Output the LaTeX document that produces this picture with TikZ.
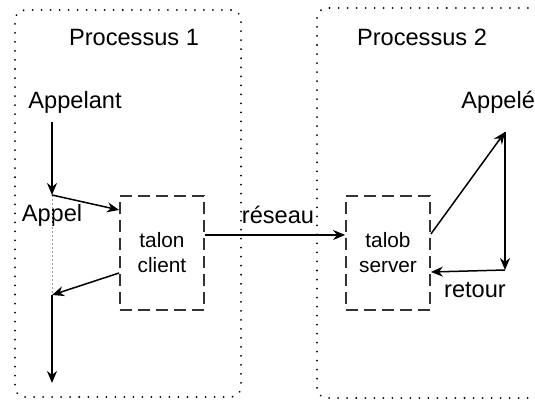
\documentclass[tikz,border=0pt]{standalone}
\usepackage{fontspec}
\setmainfont{Liberation Sans}
\usetikzlibrary{arrows.meta,positioning}

\tikzset{
  process/.style={draw, rounded corners=5pt, line width=1pt, line cap=round,
    dash pattern=on 0.01pt off 4.5pt, inner sep=0pt},
  stub/.style={draw=black!80, line width=0.9pt, dash pattern=on 6pt off 3pt,
    minimum width=42pt, minimum height=57pt, align=center,
    font=\fontsize{10.4}{12.5}\selectfont},
  lbl/.style={inner sep=0pt, font=\fontsize{11.8}{14}\selectfont},
  flow/.style={-{Stealth[length=6pt,width=5pt]}, line width=0.75pt},
}

\begin{document}
\begin{tikzpicture}[x=0.5pt,y=-0.5pt,on grid]
      \clip (0,0) rectangle (535,401);

      % les deux processus
      \node[process, minimum width=113pt, minimum height=193.5pt] (proc1) at (128,203.5) {};
      \node[process, minimum width=124pt, minimum height=195pt] (proc2) at (441,203) {};
      \node[lbl] (title1) at (134,37) {Processus 1};
      \node[lbl] (title2) [right=144pt of title1] {Processus 2};

      % talons
      \node[stub] (client) at (162,253) {talon\\client};
      \node[stub] (server) [right=113pt of client] {talob\\server};

      \node[lbl] (appelant) at (75,102) {Appelant};
      \node[lbl, anchor=west] (appele) at (461,102) {Appelé};

      \coordinate (c1) at (52,195);
      \coordinate (c2) at (52,295);
      \coordinate (c3) at (52,383);
      \coordinate (c4) at (505,132);
      \coordinate (c5) at (505,270);

      \node[lbl] (appel) at (52,215) {Appel};
      \node[lbl] (reseau) at (278,215) {réseau};
      \node[lbl] (retour) at (475,290) {retour};

      \draw[black!40, line width=0.5pt, dash pattern=on 1pt off 1pt] (c1) -- (c2);

      \draw[flow] ([yshift=-4.5pt]appelant.south -| c1) -- (c1);
      \draw[flow] (c1) -- ([yshift=21.5pt]client.west);
      \draw[flow] ([yshift=-10pt]client.west) -- (c2);
      \draw[flow] (c2) -- (c3);
      \draw[flow] ([yshift=9pt]client.east) -- ([yshift=9pt]server.west);
      \draw[flow] ([yshift=9.5pt]server.east) -- (c4);
      \draw[flow] (c4) -- (c5);
      \draw[flow] (c5) -- ([yshift=-9.5pt]server.east);
\end{tikzpicture}
\end{document}
